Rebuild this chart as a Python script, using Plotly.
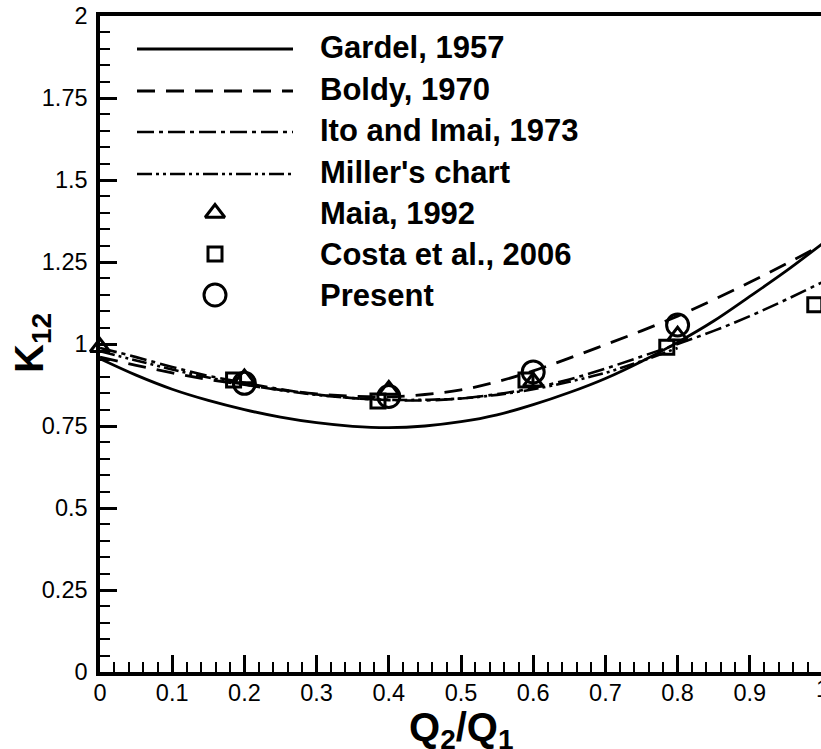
import plotly.graph_objects as go

# ---------------- data ----------------
x_curve = [0.0, 0.05, 0.1, 0.15, 0.2, 0.25, 0.3, 0.35, 0.4, 0.45, 0.5,
           0.55, 0.6, 0.65, 0.7, 0.75, 0.8, 0.85, 0.9, 0.95, 1.0]
gardel = [0.955, 0.905, 0.862, 0.828, 0.800, 0.777, 0.760, 0.749, 0.745, 0.750, 0.763,
          0.784, 0.815, 0.852, 0.895, 0.947, 1.005, 1.070, 1.145, 1.222, 1.305]
boldy = [0.960, 0.935, 0.912, 0.892, 0.876, 0.860, 0.848, 0.841, 0.839, 0.846, 0.860,
         0.885, 0.918, 0.957, 0.998, 1.040, 1.085, 1.135, 1.188, 1.244, 1.302]
ito = [0.988, 0.960, 0.930, 0.903, 0.882, 0.862, 0.846, 0.835, 0.829, 0.828, 0.834,
       0.847, 0.866, 0.892, 0.925, 0.962, 1.000, 1.040, 1.085, 1.135, 1.188]
x_miller = [0.0, 0.05, 0.1, 0.15, 0.2, 0.25, 0.3, 0.35, 0.4, 0.45, 0.5,
            0.55, 0.6, 0.65, 0.7, 0.75, 0.8]
miller = [0.978, 0.950, 0.922, 0.898, 0.877, 0.859, 0.845, 0.835, 0.830, 0.830, 0.834,
          0.845, 0.862, 0.885, 0.912, 0.948, 0.988]

x_maia = [0.0, 0.2, 0.4, 0.6, 0.8, 1.0]
y_maia = [0.99, 0.895, 0.86, 0.885, 1.025, 1.23]
x_costa = [0.185, 0.385, 0.59, 0.785, 0.99]
y_costa = [0.89, 0.826, 0.89, 0.99, 1.12]
x_present = [0.2, 0.4, 0.6, 0.8]
y_present = [0.88, 0.84, 0.915, 1.058]

legend_labels = ["Gardel, 1957", "Boldy, 1970", "Ito and Imai, 1973", "Miller's chart",
                 "Maia, 1992", "Costa et al., 2006", "Present"]

# ---------------- styles ----------------
FONT = "Liberation Sans, Arial, sans-serif"
BLACK = "black"
DASH_BOLDY = "18px,11px"
DASH_ITO = "17px,5px,4px,5px"
DASH_MILLER = "15px,4px,3px,4px,3px,4px"

line_styles = [
    dict(color=BLACK, width=2.8, dash="solid"),
    dict(color=BLACK, width=2.8, dash=DASH_BOLDY),
    dict(color=BLACK, width=2.6, dash=DASH_ITO),
    dict(color=BLACK, width=2.6, dash=DASH_MILLER),
]
marker_styles = [
    dict(symbol="triangle-up-open", size=17, color=BLACK, line=dict(width=3, color=BLACK)),
    dict(symbol="square-open", size=14, color=BLACK, line=dict(width=3, color=BLACK)),
    dict(symbol="circle-open", size=22, color=BLACK, line=dict(width=3, color=BLACK)),
]

fig = go.Figure()

curves = [(x_curve, gardel), (x_curve, boldy), (x_curve, ito), (x_miller, miller)]
for (xs, ys), st in zip(curves, line_styles):
    fig.add_trace(go.Scatter(x=xs, y=ys, mode="lines", line=dict(st, shape="spline"),
                             showlegend=False, hoverinfo="skip"))

points = [(x_maia, y_maia), (x_costa, y_costa), (x_present, y_present)]
for (xs, ys), ms in zip(points, marker_styles):
    fig.add_trace(go.Scatter(x=xs, y=ys, mode="markers", marker=ms, cliponaxis=False,
                             showlegend=False, hoverinfo="skip"))

# ---------------- hand-built legend on a pixel-like overlay axis ----------------
W, H = 821, 749
ML, MR, MT, MB = 100, 0, 16, 77
row_y = [47, 89, 130, 172, 213, 254, 295]
seg_x0, seg_x1, sym_x, text_x = 137, 293, 215, 318

for i, st in enumerate(line_styles):
    fig.add_trace(go.Scatter(x=[seg_x0, seg_x1], y=[row_y[i] + 2, row_y[i] + 2], mode="lines",
                             line=st, xaxis="x2", yaxis="y2",
                             showlegend=False, hoverinfo="skip"))
for j, ms in enumerate(marker_styles):
    i = 4 + j
    fig.add_trace(go.Scatter(x=[sym_x], y=[row_y[i]], mode="markers", marker=ms,
                             xaxis="x2", yaxis="y2", showlegend=False, hoverinfo="skip"))

annotations = []
for i, lab in enumerate(legend_labels):
    annotations.append(dict(x=text_x, y=row_y[i], xref="x2", yref="y2", text=lab,
                            showarrow=False, xanchor="left", yanchor="middle",
                            font=dict(family=FONT, size=31, color=BLACK, weight="bold")))

plot_w = W - ML - MR
plot_h = H - MT - MB
x_max = plot_w / 722.0

# axis titles
annotations.append(dict(x=(32 - ML) / plot_w, y=(672 - 343) / plot_h, xref="paper", yref="paper",
                        text="K<sub>12</sub>", textangle=-90, showarrow=False,
                        xanchor="center", yanchor="middle",
                        font=dict(family=FONT, size=40, color=BLACK, weight="bold")))
annotations.append(dict(x=(461 - ML) / plot_w, y=(672 - 730) / plot_h, xref="paper", yref="paper",
                        text="Q<sub>2</sub>/Q<sub>1</sub>", showarrow=False,
                        xanchor="center", yanchor="middle",
                        font=dict(family=FONT, size=40, color=BLACK, weight="bold")))
# the "1" tick label that sits on the window edge
annotations.append(dict(x=(822.5 - ML) / plot_w, y=(672 - 689) / plot_h, xref="paper", yref="paper",
                        text="1", showarrow=False, xanchor="center", yanchor="middle",
                        font=dict(family=FONT, size=23.5, color=BLACK)))

fig.update_layout(
    width=W, height=H,
    margin=dict(l=ML, r=MR, t=MT, b=MB, pad=0),
    paper_bgcolor="white", plot_bgcolor="white",
    showlegend=False,
    font=dict(family=FONT, color=BLACK),
    annotations=annotations,
    xaxis=dict(range=[0, x_max], showgrid=False, zeroline=False,
               showline=True, linewidth=3.5, linecolor=BLACK, mirror=True,
               ticks="inside", ticklen=17, tickwidth=3, tickcolor=BLACK,
               tick0=0, dtick=0.1, tickfont=dict(family=FONT, size=23.5, color=BLACK),
               ticklabelstandoff=-3,
               minor=dict(ticks="inside", ticklen=10, tickwidth=1.5, tickcolor=BLACK,
                          dtick=0.02, showgrid=False)),
    yaxis=dict(range=[0, 2], showgrid=False, zeroline=False,
               showline=True, linewidth=3.5, linecolor=BLACK, mirror=False,
               ticks="inside", ticklen=17, tickwidth=3, tickcolor=BLACK,
               tick0=0, dtick=0.25, tickfont=dict(family=FONT, size=23.5, color=BLACK),
               ticklabelstandoff=4,
               minor=dict(ticks="inside", ticklen=10, tickwidth=1.5, tickcolor=BLACK,
                          dtick=0.05, showgrid=False)),
    xaxis2=dict(range=[ML, W - MR], overlaying="x", anchor="y2", visible=False,
                fixedrange=True),
    yaxis2=dict(range=[H - MB, MT], overlaying="y", anchor="x2", visible=False,
                fixedrange=True),
)

fig.write_html("out.html")
